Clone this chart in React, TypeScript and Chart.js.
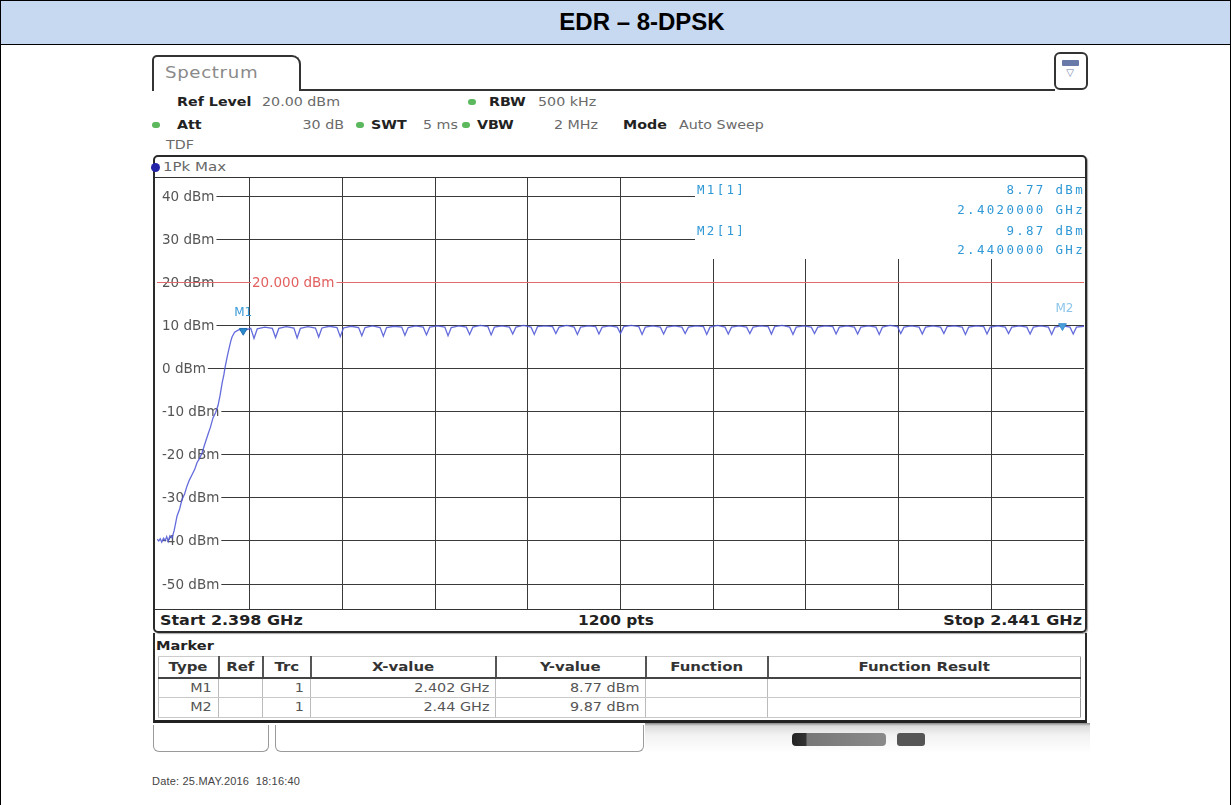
import React, { useEffect, useRef } from 'react';
import { Chart, registerables } from 'chart.js';

Chart.register(...registerables);

// ---- data ----
const TITLE = 'EDR – 8-DPSK';
const START_MHZ = 2398;
const STOP_MHZ = 2441;
const X_DIVISIONS = 10;
const Y_TOP_DBM = 44.2;
const Y_BOTTOM_DBM = -55.8;
const Y_TICKS_DBM = [40, 30, 20, 10, 0, -10, -20, -30, -40, -50];
const LIMIT_DBM = 20;
const LIMIT_LABEL = '20.000 dBm';

const RAMP_FREQ_MHZ = [
  2398.0, 2398.08, 2398.15, 2398.22, 2398.3, 2398.38, 2398.45, 2398.52, 2398.6, 2398.7,
  2398.8, 2398.93, 2399.05, 2399.16, 2399.28, 2399.39, 2399.5, 2399.63, 2399.75, 2399.86,
  2399.97, 2400.09, 2400.2, 2400.37, 2400.48, 2400.6, 2400.72, 2400.83, 2400.93, 2401.02,
  2401.1, 2401.16, 2401.25, 2401.34, 2401.42, 2401.48, 2401.6, 2401.76, 2401.9, 2402.0,
];
const RAMP_DBM = [
  -39.6, -40.0, -39.5, -40.3, -39.4, -39.9, -39.0, -40.1, -38.8, -39.3,
  -37.5, -34.2, -32.6, -30.4, -29.1, -27.3, -25.9, -24.6, -23.4, -21.8,
  -20.9, -19.6, -17.8, -15.2, -13.6, -11.4, -10.2, -8.6, -6.1, -3.4,
  -1.5, 0.3, 2.6, 4.6, 6.3, 7.3, 8.4, 8.9, 9.1, 8.77,
];

const BAND_FREQ_MHZ = [
  2402.35, 2402.5, 2402.65, 2403.0,
  2403.35, 2403.5, 2403.65, 2404.0,
  2404.35, 2404.5, 2404.65, 2405.0,
  2405.35, 2405.5, 2405.65, 2406.0,
  2406.35, 2406.5, 2406.65, 2407.0,
  2407.35, 2407.5, 2407.65, 2408.0,
  2408.35, 2408.5, 2408.65, 2409.0,
  2409.35, 2409.5, 2409.65, 2410.0,
  2410.35, 2410.5, 2410.65, 2411.0,
  2411.35, 2411.5, 2411.65, 2412.0,
  2412.35, 2412.5, 2412.65, 2413.0,
  2413.35, 2413.5, 2413.65, 2414.0,
  2414.35, 2414.5, 2414.65, 2415.0,
  2415.35, 2415.5, 2415.65, 2416.0,
  2416.35, 2416.5, 2416.65, 2417.0,
  2417.35, 2417.5, 2417.65, 2418.0,
  2418.35, 2418.5, 2418.65, 2419.0,
  2419.35, 2419.5, 2419.65, 2420.0,
  2420.35, 2420.5, 2420.65, 2421.0,
  2421.35, 2421.5, 2421.65, 2422.0,
  2422.35, 2422.5, 2422.65, 2423.0,
  2423.35, 2423.5, 2423.65, 2424.0,
  2424.35, 2424.5, 2424.65, 2425.0,
  2425.35, 2425.5, 2425.65, 2426.0,
  2426.35, 2426.5, 2426.65, 2427.0,
  2427.35, 2427.5, 2427.65, 2428.0,
  2428.35, 2428.5, 2428.65, 2429.0,
  2429.35, 2429.5, 2429.65, 2430.0,
  2430.35, 2430.5, 2430.65, 2431.0,
  2431.35, 2431.5, 2431.65, 2432.0,
  2432.35, 2432.5, 2432.65, 2433.0,
  2433.35, 2433.5, 2433.65, 2434.0,
  2434.35, 2434.5, 2434.65, 2435.0,
  2435.35, 2435.5, 2435.65, 2436.0,
  2436.35, 2436.5, 2436.65, 2437.0,
  2437.35, 2437.5, 2437.65, 2438.0,
  2438.35, 2438.5, 2438.65, 2439.0,
  2439.35, 2439.5, 2439.65, 2440.0,
  2440.35, 2440.5, 2440.65, 2441.0,
];
const BAND_DBM = [
  9.3, 7.0, 9.2, 9.6,
  9.3, 7.2, 9.3, 9.7,
  9.4, 7.1, 9.3, 9.7,
  9.4, 7.3, 9.4, 9.8,
  9.5, 7.4, 9.4, 9.8,
  9.5, 7.6, 9.5, 9.9,
  9.5, 7.5, 9.5, 9.8,
  9.6, 7.7, 9.5, 9.9,
  9.6, 7.8, 9.6, 9.9,
  9.6, 7.6, 9.5, 9.9,
  9.6, 7.9, 9.6, 10.0,
  9.7, 7.8, 9.6, 9.9,
  9.6, 8.0, 9.6, 10.0,
  9.6, 7.9, 9.7, 9.9,
  9.7, 8.1, 9.6, 10.0,
  9.6, 7.9, 9.6, 9.9,
  9.7, 8.0, 9.6, 9.9,
  9.6, 8.1, 9.7, 10.0,
  9.7, 7.9, 9.6, 9.9,
  9.6, 8.0, 9.6, 9.9,
  9.6, 8.1, 9.6, 9.9,
  9.7, 7.9, 9.6, 10.0,
  9.6, 8.0, 9.6, 9.9,
  9.6, 8.1, 9.6, 9.9,
  9.7, 8.0, 9.7, 10.0,
  9.6, 7.9, 9.6, 9.9,
  9.6, 8.1, 9.6, 9.9,
  9.7, 8.0, 9.6, 9.9,
  9.6, 8.0, 9.6, 9.9,
  9.6, 7.9, 9.6, 10.0,
  9.7, 8.1, 9.6, 9.9,
  9.6, 8.0, 9.6, 9.9,
  9.6, 8.1, 9.7, 9.9,
  9.6, 7.9, 9.6, 9.9,
  9.7, 8.0, 9.6, 9.9,
  9.6, 8.1, 9.6, 9.9,
  9.6, 8.0, 9.6, 9.9,
  9.6, 7.9, 9.6, 9.87,
  9.6, 8.0, 9.6, 9.8,
];

const MARKER_NAMES = ['M1', 'M2'];
const MARKER_FREQ_MHZ = [2402, 2440];
const MARKER_DBM = [8.77, 9.87];
const MARKER_FREQ_TEXT = ['2.4020000 GHz', '2.4400000 GHz'];
const MARKER_X_TEXT = ['2.402 GHz', '2.44 GHz'];
const MARKER_Y_TEXT = ['8.77 dBm', '9.87 dBm'];

// ---- layout constants (page px) ----
const PLOT_LEFT = 157;
const PLOT_TOP = 178;
const PLOT_W = 927;
const PLOT_H = 431;
const INFO_BOX_LEFT = 695;
const INFO_BOX_BOTTOM = 259;

const INFO_BLUE = '#2f98d6';

const overlayPlugin = {
  id: 'overlay',
  beforeDatasetsDraw(chart: any) {
    const { ctx, chartArea: a, scales } = chart;
    const y = scales.y;
    ctx.save();
    // y tick labels (inside the plot, gridline interrupted under the text)
    ctx.font = '13.5px "DejaVu Sans"';
    ctx.textBaseline = 'middle';
    ctx.textAlign = 'left';
    y.ticks.forEach((t: any) => {
      const py = y.getPixelForValue(t.value);
      const txt = `${t.value} dBm`;
      const w = ctx.measureText(txt).width;
      ctx.fillStyle = '#ffffff';
      ctx.fillRect(a.left, py - 7, 5 + w + 2, 14);
      ctx.fillStyle = '#555555';
      ctx.fillText(txt, a.left + 5, py + 1);
    });
    // marker info box
    const bx = INFO_BOX_LEFT - PLOT_LEFT;
    const bh = INFO_BOX_BOTTOM - PLOT_TOP;
    ctx.fillStyle = '#ffffff';
    ctx.fillRect(bx, a.top, a.right - bx, bh);
    ctx.fillStyle = INFO_BLUE;
    ctx.font = '12.5px "DejaVu Sans Mono"';
    (ctx as any).letterSpacing = '2.3px';
    const rows = [13, 33, 54, 73];
    MARKER_NAMES.forEach((n, i) => {
      ctx.textAlign = 'left';
      ctx.fillText(`${n}[1]`, bx + 2, rows[i * 2]);
      ctx.textAlign = 'right';
      ctx.fillText(MARKER_Y_TEXT[i], a.right + 1, rows[i * 2]);
      ctx.fillText(MARKER_FREQ_TEXT[i], a.right + 1, rows[i * 2 + 1]);
    });
    (ctx as any).letterSpacing = '0px';
    // limit line
    const ly = Math.round(y.getPixelForValue(LIMIT_DBM)) + 0.5;
    ctx.strokeStyle = '#e36a6a';
    ctx.lineWidth = 1.2;
    ctx.beginPath();
    ctx.moveTo(a.left, ly);
    ctx.lineTo(a.right, ly);
    ctx.stroke();
    ctx.font = '13.5px "DejaVu Sans"';
    const tw = ctx.measureText(LIMIT_LABEL).width;
    const lx = 95;
    ctx.fillStyle = '#ffffff';
    ctx.fillRect(lx - 1, ly - 8, tw + 3, 16);
    ctx.fillStyle = '#e26060';
    ctx.textAlign = 'left';
    ctx.fillText(LIMIT_LABEL, lx, ly + 1);
    ctx.restore();
  },
  afterDatasetsDraw(chart: any) {
    const { ctx, scales } = chart;
    ctx.save();
    ctx.font = '12px "DejaVu Sans"';
    ctx.textAlign = 'center';
    ctx.textBaseline = 'bottom';
    MARKER_NAMES.forEach((n, i) => {
      const px = scales.x.getPixelForValue(MARKER_FREQ_MHZ[i]);
      const py = scales.y.getPixelForValue(MARKER_DBM[i]);
      ctx.fillStyle = i === 0 ? '#3a9ad8' : '#8cc6ea';
      ctx.fillText(n, px + (i === 0 ? 0 : 2), py - (i === 0 ? 12 : 11));
    });
    ctx.restore();
  },
};

function SpectrumChart() {
  const ref = useRef<HTMLCanvasElement | null>(null);
  useEffect(() => {
    if (!ref.current) return;
    const trace = [
      ...RAMP_FREQ_MHZ.map((f, i) => ({ x: f, y: RAMP_DBM[i] })),
      ...BAND_FREQ_MHZ.map((f, i) => ({ x: f, y: BAND_DBM[i] })),
    ];
    const markers = MARKER_FREQ_MHZ.map((f, i) => ({ x: f, y: MARKER_DBM[i] }));
    const step = (STOP_MHZ - START_MHZ) / X_DIVISIONS;
    const xGrid: number[] = [];
    for (let k = 1; k < X_DIVISIONS; k++) xGrid.push(START_MHZ + k * step);
    const chart = new Chart(ref.current, {
      type: 'line',
      data: {
        datasets: [
          {
            data: trace,
            borderColor: 'rgba(78,86,214,0.88)',
            borderWidth: 1.3,
            pointRadius: 0,
            tension: 0,
            order: 2,
          },
          {
            data: markers,
            showLine: false,
            pointStyle: 'triangle',
            rotation: 180,
            pointRadius: 4.5,
            backgroundColor: ['#2a88cc', '#4a9fd8'],
            borderColor: ['#1f6fb0', '#3a8fd0'],
            borderWidth: 1,
            order: 1,
          },
        ],
      },
      options: {
        animation: false,
        responsive: false,
        layout: { padding: 0, autoPadding: false },
        plugins: { legend: { display: false }, tooltip: { enabled: false } },
        events: [],
        scales: {
          x: {
            type: 'linear',
            min: START_MHZ,
            max: STOP_MHZ,
            afterBuildTicks: (s: any) => {
              s.ticks = xGrid.map((v) => ({ value: v }));
            },
            ticks: { display: false },
            grid: { color: '#3a3a3a', lineWidth: 1, drawTicks: false },
            border: { display: false },
          },
          y: {
            type: 'linear',
            min: Y_BOTTOM_DBM,
            max: Y_TOP_DBM,
            afterBuildTicks: (s: any) => {
              s.ticks = Y_TICKS_DBM.map((v) => ({ value: v }));
            },
            ticks: { display: false },
            grid: { color: '#3a3a3a', lineWidth: 1, drawTicks: false },
            border: { display: false },
          },
        },
      },
      plugins: [overlayPlugin],
    } as any);
    return () => chart.destroy();
  }, []);
  return (
    <canvas
      ref={ref}
      width={PLOT_W}
      height={PLOT_H}
      style={{ position: 'absolute', left: PLOT_LEFT, top: PLOT_TOP, width: PLOT_W, height: PLOT_H, display: 'block' }}
    />
  );
}

const abs = (left: number, top: number, extra: React.CSSProperties = {}): React.CSSProperties => ({
  position: 'absolute',
  left,
  top,
  ...extra,
});

function Txt(props: {
  x: number;
  y: number;
  children: React.ReactNode;
  style?: React.CSSProperties;
  align?: 'left' | 'center' | 'right';
  sx?: number;
}) {
  const { x, y, children, style, align = 'left', sx = 1 } = props;
  const tx = align === 'left' ? '0' : align === 'center' ? '-50%' : '-100%';
  return (
    <div
      style={{
        position: 'absolute',
        left: x,
        top: y,
        transform: `translate(${tx}, -50%) scaleX(${sx})`,
        transformOrigin: `${align} center`,
        whiteSpace: 'pre',
        lineHeight: 1,
        ...style,
      }}
    >
      {children}
    </div>
  );
}

const UI_FONT = '"DejaVu Sans", Verdana, sans-serif';
const UI_SX = 1.14;
const lbl: React.CSSProperties = { fontFamily: UI_FONT, fontSize: 12.5, fontWeight: 'bold', color: '#222' };
const val: React.CSSProperties = { fontFamily: UI_FONT, fontSize: 12.5, color: '#6a6a6a' };

function Dot({ x, y, color = '#5cb85c' }: { x: number; y: number; color?: string }) {
  return <div style={abs(x - 4, y - 3, { width: 8, height: 6, borderRadius: 4, background: color })} />;
}

const COLS = [
  { w: 60, h: 'Type' },
  { w: 44, h: 'Ref' },
  { w: 48, h: 'Trc' },
  { w: 185, h: 'X-value' },
  { w: 150, h: 'Y-value' },
  { w: 122, h: 'Function' },
  { w: 313, h: 'Function Result' },
];

function MarkerTable() {
  const cellBase: React.CSSProperties = {
    padding: '0 6px',
    fontFamily: UI_FONT,
    fontSize: 12.5,
    color: '#555',
    borderLeft: '1px solid #bbb',
    borderBottom: '1px solid #c8c8c8',
    height: 19,
    boxSizing: 'border-box',
    whiteSpace: 'nowrap',
    overflow: 'visible',
    lineHeight: 1,
  };
  const inner = (txt: string, align: 'left' | 'center' | 'right', sx: number) => (
    <span
      style={{
        display: 'inline-block',
        transform: `scaleX(${sx})`,
        transformOrigin: `${align} center`,
      }}
    >
      {txt}
    </span>
  );
  const rows = MARKER_NAMES.map((n, i) => [n, '', '1', MARKER_X_TEXT[i], MARKER_Y_TEXT[i], '', '']);
  return (
    <table
      style={{
        position: 'absolute',
        left: 158,
        top: 656,
        width: 922,
        borderCollapse: 'collapse',
        tableLayout: 'fixed',
        borderRight: '1px solid #999',
      }}
    >
      <colgroup>
        {COLS.map((c) => (
          <col key={c.h} style={{ width: c.w }} />
        ))}
      </colgroup>
      <thead>
        <tr>
          {COLS.map((c, i) => (
            <th
              key={c.h}
              style={{
                ...cellBase,
                height: 21,
                fontWeight: 'bold',
                fontSize: 13,
                color: '#333',
                textAlign: 'center',
                borderLeft: i === 0 ? '1px solid #bbb' : '2px solid #555',
                borderBottom: '2px solid #444',
                borderTop: '1px solid #ccc',
              }}
            >
              {inner(c.h, 'center', 1.15)}
            </th>
          ))}
        </tr>
      </thead>
      <tbody>
        {rows.map((r, ri) => (
          <tr key={ri}>
            {r.map((c, ci) => (
              <td key={ci} style={{ ...cellBase, height: 20, textAlign: ci >= 5 ? 'left' : 'right' }}>
                {c ? inner(c, 'right', 1.15) : null}
              </td>
            ))}
          </tr>
        ))}
      </tbody>
    </table>
  );
}

export default function App() {
  return (
    <div style={abs(0, 0, { width: 1231, height: 805, overflow: 'hidden', background: '#fff' })}>
      {/* document table */}
      <div
        style={abs(0, 0, {
          width: 1231,
          height: 45,
          boxSizing: 'border-box',
          border: '1px solid #000',
          background: '#c6d9f1',
        })}
      />
      <Txt x={642} y={22} align="center" style={{ fontFamily: '"Liberation Sans", Arial, sans-serif', fontWeight: 'bold', fontSize: 24, color: '#000' }}>
        {TITLE}
      </Txt>
      <div style={abs(0, 44, { width: 1231, height: 800, boxSizing: 'border-box', borderLeft: '1px solid #000', borderRight: '1px solid #000' })} />

      {/* tab */}
      <div
        style={abs(152, 55, {
          width: 149,
          height: 36,
          boxSizing: 'border-box',
          border: '2px solid #333',
          borderBottom: 'none',
          borderRadius: '5px 9px 0 0',
          background: '#fff',
        })}
      />
      <Txt x={165} y={73} sx={1.1} style={{ fontFamily: UI_FONT, fontSize: 16.5, color: '#8a8a8a', letterSpacing: 0.6 }}>
        Spectrum
      </Txt>
      <div style={abs(299, 89, { width: 756, height: 2, background: '#333' })} />
      <div
        style={abs(1054, 52, {
          width: 34,
          height: 38,
          boxSizing: 'border-box',
          border: '2px solid #333',
          borderRadius: 6,
          background: '#fff',
        })}
      />
      <div style={abs(1062, 60, { width: 17, height: 6, background: '#6a7aa8', borderRadius: 1 })} />
      <Txt x={1070} y={73} align="center" style={{ fontFamily: UI_FONT, fontSize: 10, color: '#6a7aa8' }}>
        ▽
      </Txt>

      {/* settings */}
      <Txt x={177} y={102} sx={UI_SX} style={lbl}>Ref Level</Txt>
      <Txt x={262} y={102} sx={UI_SX} style={val}>20.00 dBm</Txt>
      <Dot x={472} y={102} />
      <Txt x={489} y={102} sx={UI_SX} style={lbl}>RBW</Txt>
      <Txt x={538} y={102} sx={UI_SX} style={val}>500 kHz</Txt>
      <Dot x={156} y={125} />
      <Txt x={177} y={125} sx={UI_SX} style={lbl}>Att</Txt>
      <Txt x={344} y={125} align="right" sx={UI_SX} style={val}>30 dB</Txt>
      <Dot x={360} y={125} />
      <Txt x={371} y={125} sx={UI_SX} style={lbl}>SWT</Txt>
      <Txt x={423} y={125} sx={UI_SX} style={val}>5 ms</Txt>
      <Dot x={466} y={125} />
      <Txt x={477} y={125} sx={UI_SX} style={lbl}>VBW</Txt>
      <Txt x={598} y={125} align="right" sx={UI_SX} style={val}>2 MHz</Txt>
      <Txt x={623} y={125} sx={UI_SX} style={lbl}>Mode</Txt>
      <Txt x={679} y={125} sx={UI_SX} style={val}>Auto Sweep</Txt>
      <Txt x={166} y={145} sx={UI_SX} style={val}>TDF</Txt>

      {/* diagram frame */}
      <div
        style={abs(153, 155, {
          width: 934,
          height: 478,
          boxSizing: 'border-box',
          border: '2px solid #2a2a2a',
          borderRadius: 5,
          boxShadow: '1px 1px 1px rgba(0,0,0,0.35)',
        })}
      />
      <div style={abs(151, 163, { width: 9, height: 9, borderRadius: 5, background: '#2424a8' })} />
      <Txt x={163} y={167} sx={1.2} style={{ ...val, fontSize: 12.5, color: '#666' }}>1Pk Max</Txt>
      <div style={abs(155, 177, { width: 930, height: 1, background: '#333' })} />
      <SpectrumChart />
      <div style={abs(155, 609, { width: 930, height: 1, background: '#333' })} />
      <Txt x={160} y={620} sx={1.14} style={{ ...lbl, fontSize: 14 }}>Start 2.398 GHz</Txt>
      <Txt x={616} y={620} align="center" sx={1.1} style={{ ...lbl, fontSize: 14 }}>1200 pts</Txt>
      <Txt x={1082} y={620} align="right" sx={1.14} style={{ ...lbl, fontSize: 14 }}>Stop 2.441 GHz</Txt>

      {/* marker panel */}
      <div
        style={abs(153, 633, {
          width: 934,
          height: 90,
          boxSizing: 'border-box',
          borderLeft: '2px solid #2a2a2a',
          borderRight: '2px solid #2a2a2a',
          borderBottom: '3px solid #222',
        })}
      />
      <Txt x={156} y={645} sx={1.12} style={{ ...lbl, fontSize: 13 }}>Marker</Txt>
      <MarkerTable />

      {/* toolbar */}
      <div
        style={abs(153, 725, {
          width: 116,
          height: 27,
          boxSizing: 'border-box',
          border: '1.5px solid #9a9a9a',
          borderTop: 'none',
          borderRadius: '0 0 6px 6px',
        })}
      />
      <div
        style={abs(275, 725, {
          width: 369,
          height: 27,
          boxSizing: 'border-box',
          border: '1.5px solid #9a9a9a',
          borderTop: 'none',
          borderRadius: '0 0 6px 6px',
        })}
      />
      <div style={abs(645, 723, { width: 445, height: 30, background: 'linear-gradient(#888 0px, #dcdcdc 3px, #f2f2f2 12px, #ffffff 30px)' })} />
      <div style={abs(792, 733, { width: 94, height: 13, borderRadius: 4, background: 'linear-gradient(90deg, #222 0px, #333 14px, #777 15px, #8a8a8a 100%)' })} />
      <div style={abs(897, 733, { width: 28, height: 13, borderRadius: 3, background: '#555' })} />

      <Txt x={152} y={781} style={{ fontFamily: '"Liberation Sans", Arial, sans-serif', fontSize: 11, color: '#444', letterSpacing: 0.2 }}>
        {'Date: 25.MAY.2016  18:16:40'}
      </Txt>
    </div>
  );
}
